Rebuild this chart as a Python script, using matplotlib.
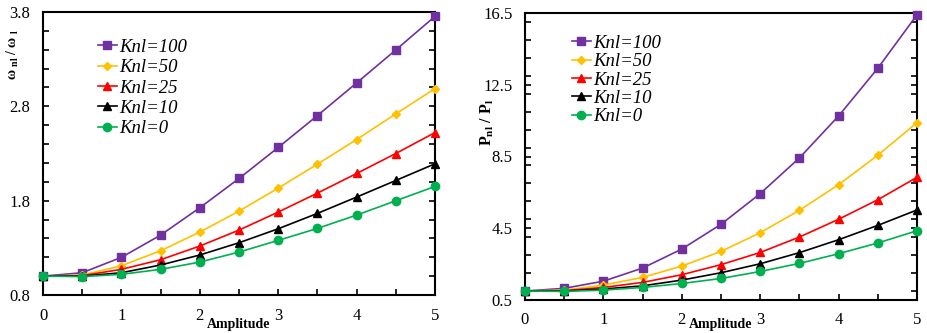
import matplotlib
matplotlib.use("Agg")
import matplotlib.pyplot as plt
from matplotlib.ticker import MultipleLocator

plt.rcParams['font.family'] = ['Liberation Serif', 'DejaVu Serif']
plt.rcParams['mathtext.fontset'] = 'custom'
plt.rcParams['mathtext.rm'] = 'Liberation Serif'
plt.rcParams['mathtext.bf'] = 'Liberation Serif:bold'
plt.rcParams['mathtext.it'] = 'Liberation Serif:italic'

amplitude = [0, 0.5, 1, 1.5, 2, 2.5, 3, 3.5, 4, 4.5, 5]
labels = ['Knl=100', 'Knl=50', 'Knl=25', 'Knl=10', 'Knl=0']

# frequency ratio
omega_100 = [1.0, 1.036, 1.199, 1.435, 1.725, 2.035, 2.364, 2.702, 3.048, 3.398, 3.754]
omega_50 = [1.0, 1.010, 1.110, 1.269, 1.467, 1.689, 1.933, 2.187, 2.448, 2.720, 2.988]
omega_25 = [1.0, 1.005, 1.072, 1.174, 1.319, 1.488, 1.679, 1.880, 2.088, 2.300, 2.522]
omega_10 = [1.0, 1.000, 1.036, 1.118, 1.224, 1.354, 1.502, 1.665, 1.838, 2.014, 2.191]
omega_0 = [1.0, 0.995, 1.019, 1.072, 1.149, 1.255, 1.379, 1.506, 1.647, 1.799, 1.951]

# power ratio
p_100 = [1.0, 1.15, 1.55, 2.28, 3.34, 4.72, 6.43, 8.42, 10.76, 13.42, 16.40]
p_50 = [1.0, 1.05, 1.33, 1.76, 2.39, 3.21, 4.25, 5.50, 6.93, 8.57, 10.39]
p_25 = [1.0, 1.02, 1.20, 1.48, 1.91, 2.47, 3.15, 4.01, 5.00, 6.09, 7.34]
p_10 = [1.0, 1.00, 1.11, 1.29, 1.61, 2.02, 2.52, 3.14, 3.86, 4.66, 5.52]
p_0 = [1.0, 0.98, 1.05, 1.20, 1.42, 1.70, 2.09, 2.54, 3.08, 3.68, 4.36]

colors = ['#7030A0', '#FFC000', '#FF0000', '#000000', '#00B050']
markers = ['s', 'D', '^', '^', 'o']
msizes = [6, 4.5, 6, 6, 6]

fig = plt.figure(figsize=(9.28, 3.33), dpi=100)
ax1 = fig.add_axes([43/928, 38/333, 392/928, 283/333])
ax2 = fig.add_axes([525/928, 33/333, 392/928, 287/333])

def style(ax):
    for s in ax.spines.values():
        s.set_linewidth(1.5)
    ax.tick_params(axis='both', which='both', direction='in', labelsize=12,
                   top=False, right=True, width=1.2)
    ax.tick_params(axis='both', which='major', length=4)
    ax.tick_params(axis='both', which='minor', length=4)
    ax.tick_params(axis='y', pad=9)
    ax.tick_params(axis='x', pad=9)
    ax.set_xlim(0, 5)
    ax.xaxis.set_major_locator(MultipleLocator(1))
    ax.xaxis.set_minor_locator(MultipleLocator(0.5))

series1 = [omega_100, omega_50, omega_25, omega_10, omega_0]
series2 = [p_100, p_50, p_25, p_10, p_0]

for ax, series in ((ax1, series1), (ax2, series2)):
    for ys, c, m, ms, lab in zip(series, colors, markers, msizes, labels):
        ax.plot(amplitude, ys, color=c, marker=m, markersize=ms, linewidth=1.2,
                label=lab, clip_on=False, zorder=3)
    style(ax)

ax1.set_ylim(0.8, 3.8)
ax1.set_yticks([0.8, 1.8, 2.8, 3.8])
ax1.set_yticklabels(['0.8', '1.8', '2.8', '3.8'])
ax1.yaxis.set_minor_locator(MultipleLocator(0.2))

ax2.set_ylim(0.5, 16.5)
ax2.set_yticks([0.5, 4.5, 8.5, 12.5, 16.5])
ax2.set_yticklabels(['0.5', '4.5', '8.5', '12.5', '16.5'])
ax2.yaxis.set_minor_locator(MultipleLocator(1.0))

ax1.set_ylabel(r'$\mathbf{\omega}$ $_{\mathbf{nl}}$ / $\mathbf{\omega}$ $_{\mathbf{l}}$',
               fontsize=10, fontweight='bold')
ax1.yaxis.set_label_coords(-0.057, 0.85)
ax2.set_ylabel(r'$\mathbf{P}_{\mathbf{nl}}$ / $\mathbf{P}_{\mathbf{l}}$',
               fontsize=11.5, fontweight='bold')
ax2.yaxis.set_label_coords(-0.075, 0.62)

ax1.text(2.5, -0.105, 'Amplitude', transform=ax1.get_xaxis_transform(),
         ha='center', va='center', fontsize=10, fontweight='bold')
ax2.text(2.5, -0.085, 'Amplitude', transform=ax2.get_xaxis_transform(),
         ha='center', va='center', fontsize=10, fontweight='bold')

for ax, anchor, sp in ((ax1, (0.14, 0.905), 0.17), (ax2, (0.12, 0.925), 0.07)):
    ax.legend(loc='upper left', bbox_to_anchor=anchor, frameon=False,
              prop={'style': 'italic', 'size': 13.5}, handlelength=1.0,
              handletextpad=0.15, labelspacing=sp, borderaxespad=0,
              borderpad=0)

fig.savefig('out.png', dpi=100)
